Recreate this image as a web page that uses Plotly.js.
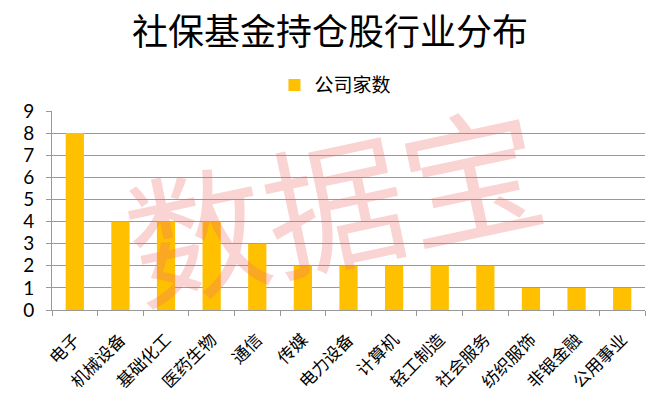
<!DOCTYPE html>
<html>
<head>
<meta charset="utf-8">
<script src="https://cdn.plot.ly/plotly-3.0.1.min.js"></script>
<style>html,body{margin:0;padding:0;background:#fff;}#chart{width:660px;height:403px;}</style>
</head>
<body>
<div id="chart"></div>
<script>
const categories = ["电子","机械设备","基础化工","医药生物","通信","传媒","电力设备","计算机","轻工制造","社会服务","纺织服饰","非银金融","公用事业"];
const companyCounts = [8,4,4,4,3,2,2,2,2,2,1,1,1];
const seriesName = "公司家数";
const chartTitle = "社保基金持仓股行业分布";
const watermarkText = "数据宝";
const yTicks = [0,1,2,3,4,5,6,7,8,9];

const cjk = '"Noto Sans CJK SC", "Noto Sans", sans-serif';

const data = [{
  type: 'bar',
  x: categories,
  y: companyCounts,
  name: seriesName,
  marker: {color: '#FFC000'},
  width: 0.4,
  hoverinfo: 'x+y'
}];

const layout = {
  width: 660,
  height: 403,
  margin: {l: 52, r: 15, t: 111, b: 93},
  paper_bgcolor: '#fff',
  plot_bgcolor: '#fff',
  showlegend: true,
  title: {
    text: chartTitle,
    font: {family: cjk, size: 36, color: '#000'},
    x: 0.5, xanchor: 'center',
    y: 0.92, yanchor: 'middle'
  },
  legend: {
    orientation: 'h',
    x: 0.478, xanchor: 'center',
    y: 1.13, yanchor: 'middle',
    font: {family: cjk, size: 19, color: '#000'},
    itemwidth: 30
  },
  xaxis: {
    type: 'category',
    tickangle: -45,
    tickfont: {family: cjk, size: 17, color: '#000'},
    ticklabelstandoff: 12,
    showline: true,
    linecolor: '#999',
    linewidth: 1,
    ticks: 'outside',
    tickson: 'boundaries',
    ticklen: 5,
    tickcolor: '#999',
    showgrid: false,
    fixedrange: true
  },
  yaxis: {
    range: [0, 9],
    tickvals: yTicks,
    tickfont: {family: 'Lato, "Liberation Sans", sans-serif', size: 19, color: '#000'},
    ticklabelstandoff: 8,
    showline: true,
    linecolor: '#999',
    linewidth: 1,
    ticks: 'outside',
    ticklen: 5,
    tickcolor: '#999',
    showgrid: true,
    gridcolor: '#999',
    gridwidth: 1,
    zeroline: false,
    fixedrange: true
  },
  annotations: [{
    text: watermarkText,
    xref: 'paper', yref: 'paper',
    x: 0.474, y: 0.56,
    xanchor: 'center', yanchor: 'middle',
    showarrow: false,
    textangle: -12,
    font: {family: cjk, size: 140, color: 'rgba(240,110,110,0.3)'}
  }]
};

Plotly.newPlot('chart', data, layout, {displayModeBar: false, staticPlot: true});
</script>
</body>
</html>
